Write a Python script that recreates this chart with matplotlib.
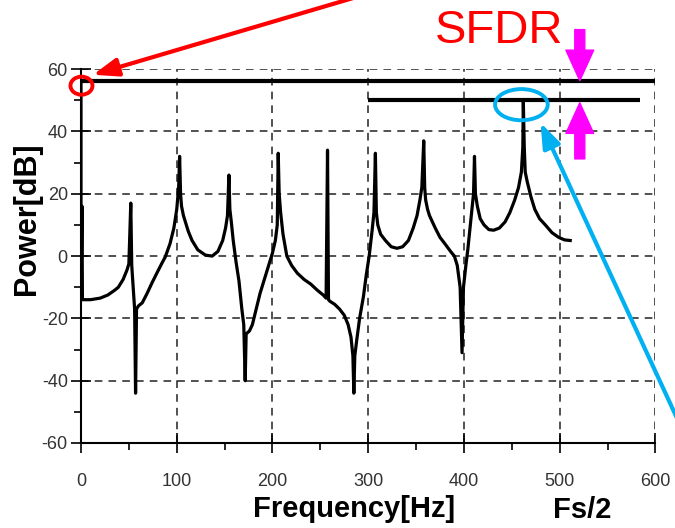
import matplotlib
matplotlib.use("Agg")
import matplotlib.pyplot as plt
from matplotlib.patches import Ellipse, FancyArrowPatch

plt.rcParams['font.family'] = ['Liberation Sans', 'DejaVu Sans']
plt.rcParams['axes.unicode_minus'] = False

# spectrum trace (Hz, dB)
freq = [0, 0, 1, 1.5, 4, 10, 20, 28, 35, 39, 44, 48, 50, 52, 53, 56, 57, 58,
        60, 64, 69, 74, 80, 85, 88, 93, 97, 100, 102, 103, 104, 105, 107, 109,
        112, 116, 122, 130, 137, 143, 148, 151, 153, 154.5, 155.5, 157, 159,
        162, 165, 168, 170, 171.5, 172.5, 176, 179, 183, 187, 191, 196, 200,
        203, 205, 206, 207, 208.5, 211, 215, 220, 226, 233, 240, 247, 253, 256,
        257.5, 258.5, 260, 265, 270, 275, 279, 282, 284, 285, 286, 288, 291,
        295, 298, 301, 304, 306, 307.5, 308.5, 310, 313, 318, 324, 330, 336,
        342, 347, 351, 354, 356, 358, 359, 360, 362, 364, 370, 375, 380, 386,
        390, 393, 396, 398, 399.5, 402, 404, 406, 408, 410, 411, 412, 414, 417,
        421, 426, 431, 437, 443, 448, 453, 457, 460, 461.5, 462, 463, 464, 466,
        470, 474, 479, 485, 492, 499, 505, 511]
power = [56, -14, 16, -14, -14, -14, -13.5, -12.5, -11, -10, -7.5, -4.5, -2.5,
         17, -3, -17, -44, -17,
         -16, -15, -12, -8.7, -5, -2, -0.3, 4, 9, 15, 22, 32, 20, 16, 13, 11,
         8, 5, 2, 0.3, 0, 1.5, 5, 9, 13, 26, 15, 11, 5,
         -2, -8, -17, -22, -40, -25, -24, -22, -17, -12, -8, -3, 1,
         5, 10, 33, 20, 14, 7, 0, -3, -5.5, -7.5, -9, -11, -12.5, -13.5,
         34, -14, -14.5, -15.5, -17, -19, -22, -26, -32, -44, -32, -27, -20,
         -13, -6, 0, 8, 14, 33, 14, 10, 7, 5, 3, 2.5, 3,
         5, 9, 13, 18, 22, 37, 22, 18, 15, 13, 9, 6, 4, 1.5,
         0, -3, -10, -31, -10, -3, 2, 8, 14, 20, 32, 20, 16, 12,
         10, 8.5, 8.3, 9, 11, 14, 18, 22, 27, 35, 50, 35, 27, 24,
         19, 15, 12, 10, 7.5, 6, 5.2, 5]

fund_db = 56.3      # fundamental level
spur_db = 50.2      # largest spur level
spur_f = 462

xticks = [0, 100, 200, 300, 400, 500, 600]
yticks = [-60, -40, -20, 0, 20, 40, 60]

fig = plt.figure(figsize=(6.75, 5.28), dpi=100)
ax = fig.add_axes([0.12, 0.161, 0.851, 0.708])

ax.plot(freq, power, color='black', lw=2.3, zorder=3)
ax.hlines(fund_db, 0, 600, color='black', lw=3, zorder=4)
ax.hlines(spur_db, 300, 584, color='black', lw=3, zorder=4)

ax.set_xlim(0, 600)
ax.set_ylim(-60, 60)
ax.set_xticks(xticks)
ax.set_yticks(yticks)
ax.set_xticks(range(50, 600, 100), minor=True)
ax.set_yticks(range(-50, 60, 20), minor=True)
ax.grid(True, which='major', linestyle=(0, (5, 4)), color='#222222', lw=1.1)
ax.tick_params(which='major', direction='inout', length=15, width=1.2,
               labelsize=13, labelcolor='#333333')
ax.tick_params(axis='x', which='major', pad=14)
ax.tick_params(axis='y', which='major', pad=2)
ax.tick_params(which='minor', direction='out', length=5, width=1.2)
for s in ['top', 'right']:
    ax.spines[s].set_visible(False)
for s in ['left', 'bottom']:
    ax.spines[s].set_linewidth(1.5)

fig.text(0.04, 0.585, 'Power[dB]', rotation=90, ha='center', va='center',
         fontsize=22, fontweight='bold')
fig.text(0.525, 0.036, 'Frequency[Hz]', ha='center', va='center',
         fontsize=21, fontweight='bold')
fig.text(0.862, 0.034, 'Fs/2', ha='center', va='center',
         fontsize=21, fontweight='bold')
fig.text(0.74, 0.942, 'SFDR', ha='center', va='center', fontsize=34,
         color='red')

# red circle and arrow at the fundamental
ax.add_patch(Ellipse((0.5, 54.7), 23, 5.8, fill=False, ec='red', lw=2.8,
                     clip_on=False, zorder=5))
ax.annotate('', xy=(12.5, 58.2), xytext=(286, 83), annotation_clip=False,
            arrowprops=dict(arrowstyle='-|>,head_width=0.55,head_length=1.5',
                            color='red', lw=3, shrinkA=0, shrinkB=0))

# blue ellipse and arrow at the spur
ax.add_patch(Ellipse((spur_f - 2, 48.6), 55, 10, fill=False, ec='#00b0f0',
                     lw=2.8, zorder=5))
ax.annotate('', xy=(480, 42.8), xytext=(630, -57), annotation_clip=False,
            arrowprops=dict(arrowstyle='-|>,head_width=0.55,head_length=1.5',
                            color='#00b0f0', lw=3, shrinkA=0, shrinkB=0))

# magenta SFDR arrows
for tail, tip in [((521, 72.7), (521, fund_db)), ((521, 31.2), (521, spur_db - 1))]:
    ax.add_patch(FancyArrowPatch(tail, tip, clip_on=False, color='#ff00ff',
                                 arrowstyle='simple,head_width=2.0,head_length=2.2,tail_width=0.72',
                                 mutation_scale=10, shrinkA=0, shrinkB=0, zorder=6))

fig.savefig('out.png', dpi=100)
